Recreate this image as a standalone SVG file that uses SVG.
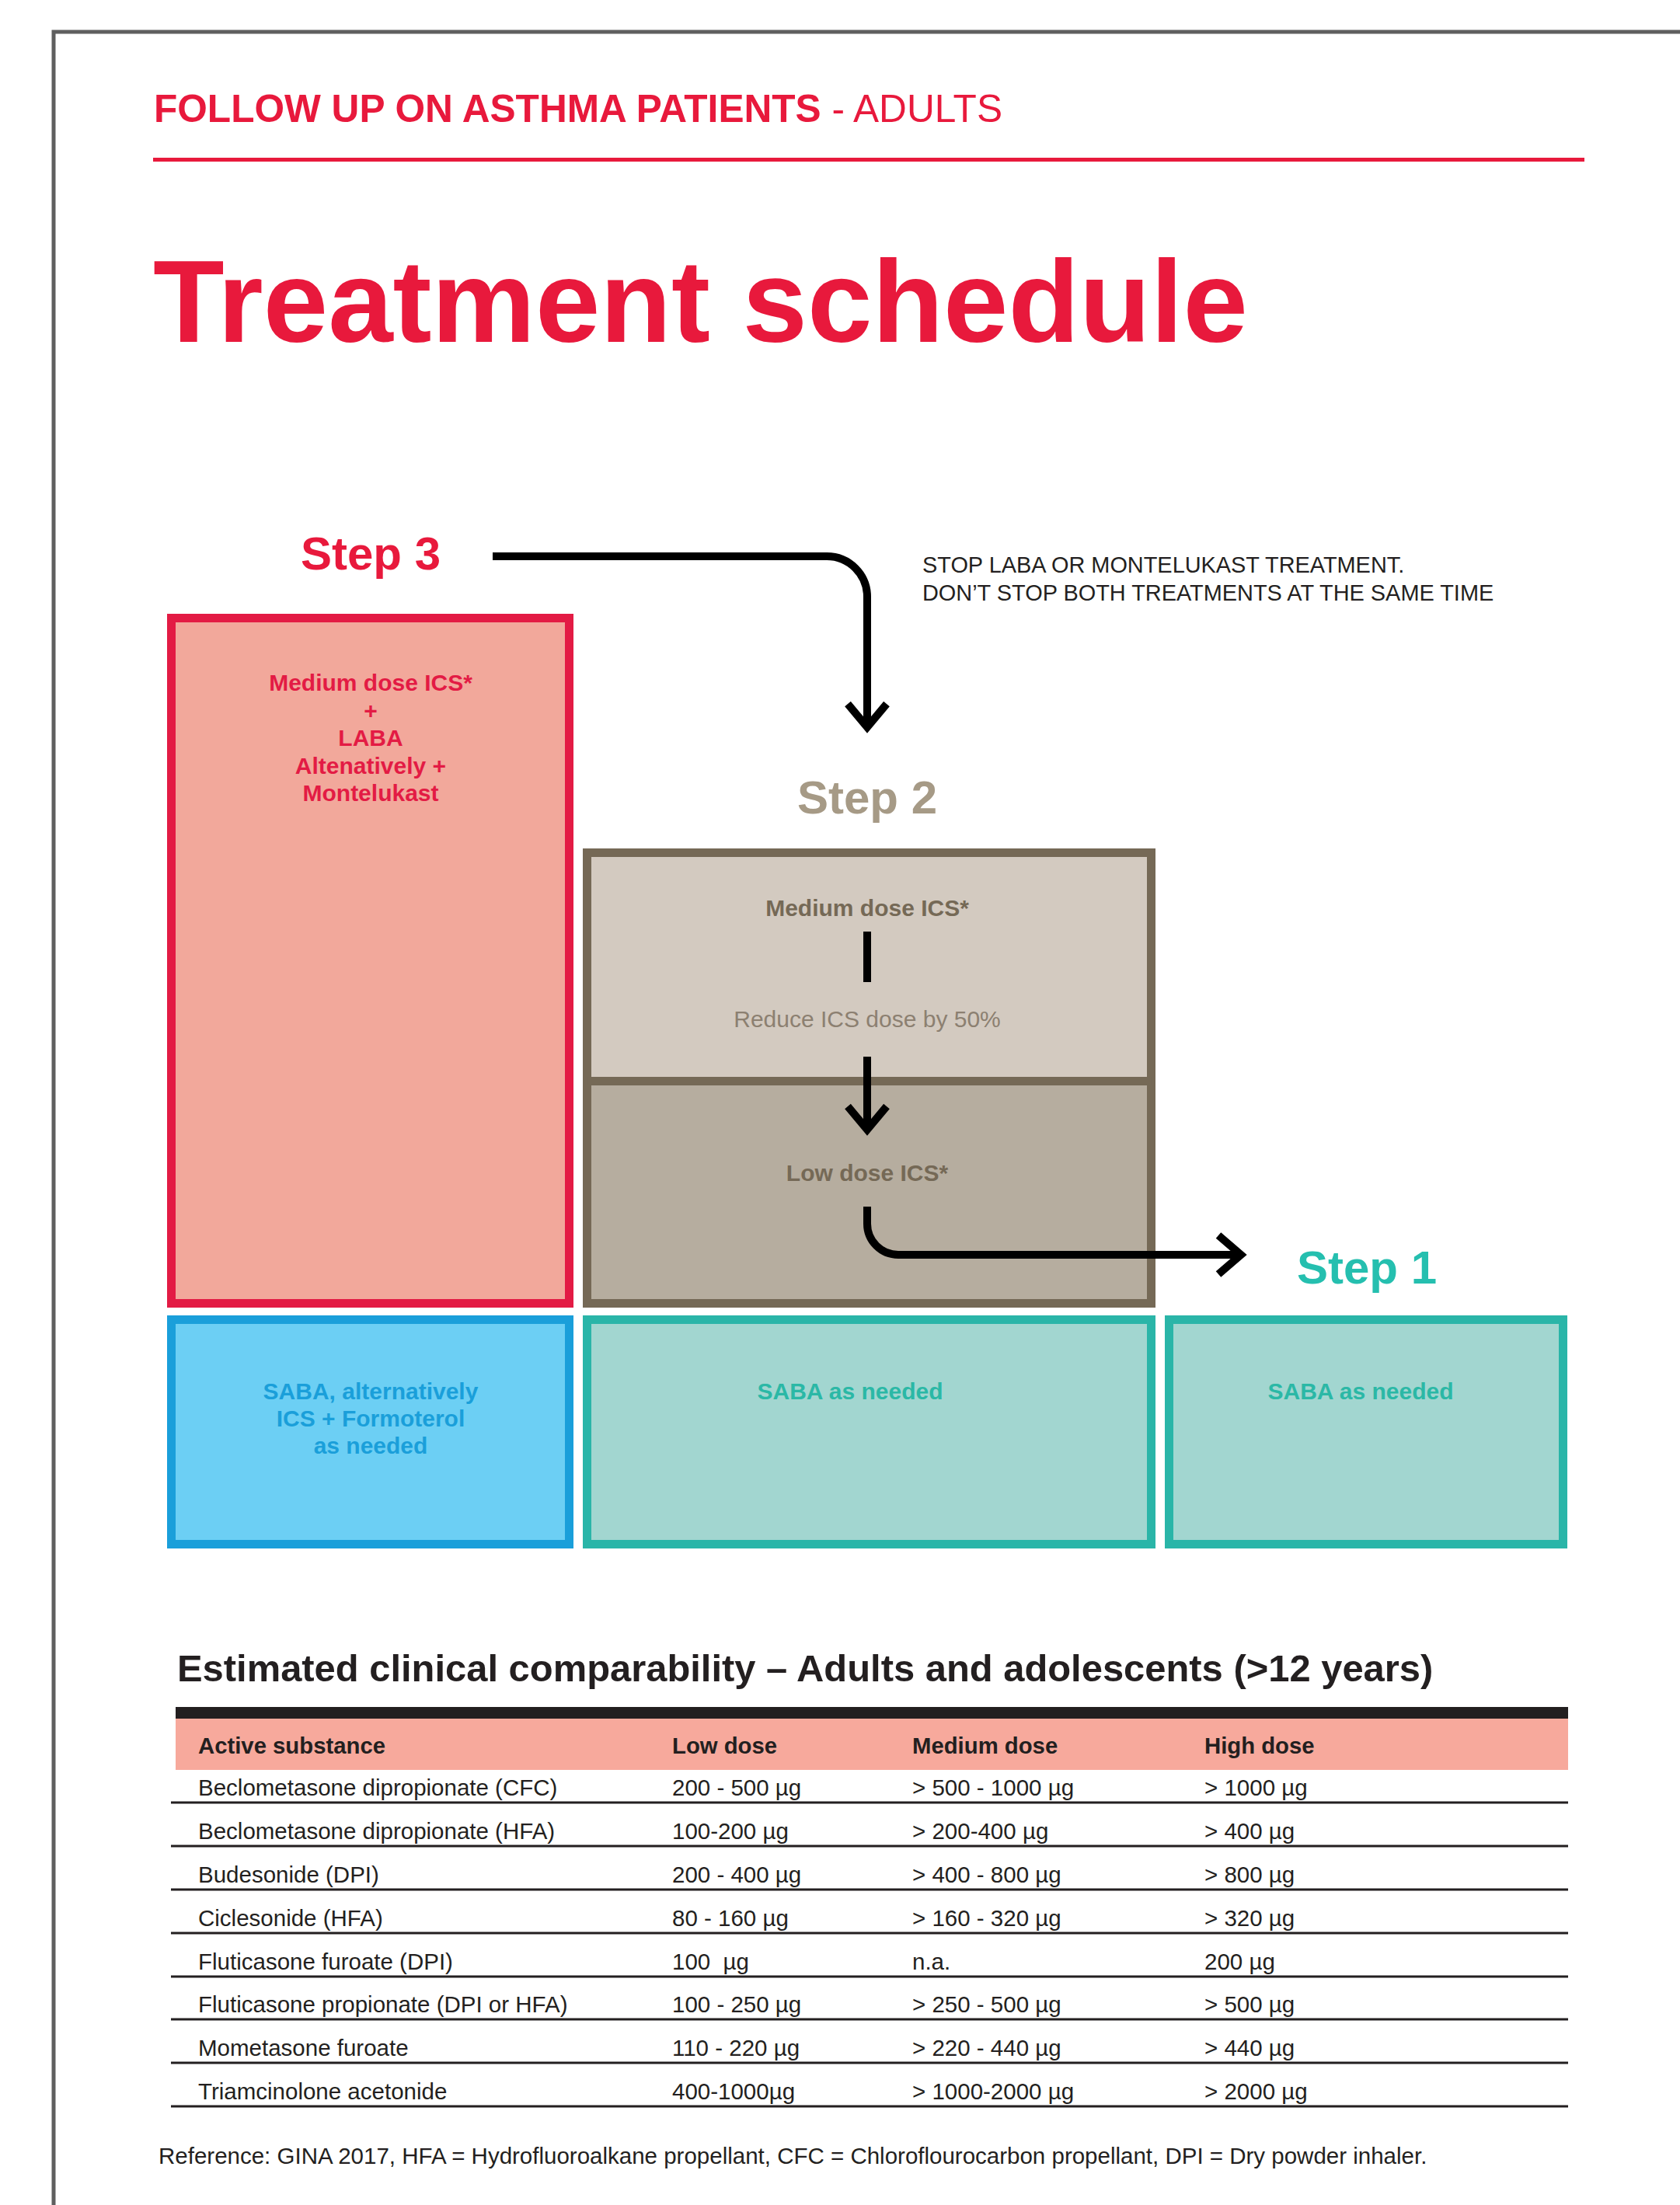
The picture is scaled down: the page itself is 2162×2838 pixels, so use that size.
<svg xmlns="http://www.w3.org/2000/svg" width="2162" height="2838" viewBox="0 0 2162 2838">
<style>
text{font-family:"Liberation Sans",Arial,sans-serif}
.b{font-weight:bold}
.red{fill:#E8193C}
.c{text-anchor:middle}
.step{font-size:60px;font-weight:bold;text-anchor:middle}
.bx{font-size:30px;font-weight:bold;text-anchor:middle}
.dk{fill:#231F20}
.row{font-size:29.5px;fill:#231F20}
.hd{font-size:29.3px;font-weight:bold;fill:#231F20}
.rl{stroke:#231F20;stroke-width:3}
.arr{fill:none;stroke:#000;stroke-width:10;stroke-linejoin:miter;stroke-miterlimit:10}
</style>
<rect width="2162" height="2838" fill="#fff"/>
<path d="M69,2838 V41 H2162" fill="none" stroke="#5F5F5F" stroke-width="5"/>

<g id="header">
<text x="198" y="157" font-size="49.6" class="red"><tspan class="b">FOLLOW UP ON ASTHMA PATIENTS</tspan> - ADULTS</text>
<rect x="197" y="203" width="1842" height="5" fill="#E8193C"/>
<text x="197" y="440" font-size="150" class="b red">Treatment schedule</text>
</g>

<g id="step3">
<text x="477" y="733" class="step" fill="#E8193C">Step 3</text>
<rect x="220.5" y="795.5" width="512" height="882" fill="#F2A89B" stroke="#E31B44" stroke-width="11"/>
<g class="bx" fill="#E31B44">
<text x="477" y="889" class="bx">Medium dose ICS*</text>
<text x="477" y="924.5" class="bx">+</text>
<text x="477" y="960" class="bx">LABA</text>
<text x="477" y="995.5" class="bx">Altenatively +</text>
<text x="477" y="1031" class="bx">Montelukast</text>
</g>
</g>

<g id="note">
<text x="1187" y="737" font-size="28.9" class="dk">STOP LABA OR MONTELUKAST TREATMENT.</text>
<text x="1187" y="773" font-size="28.9" class="dk">DON’T STOP BOTH TREATMENTS AT THE SAME TIME</text>
</g>

<g id="step2">
<text x="1116" y="1047" class="step" fill="#A69A86">Step 2</text>
<rect x="755.5" y="1097.5" width="726" height="294" fill="#D3CAC0"/>
<rect x="755.5" y="1391.5" width="726" height="286" fill="#B6AD9F"/>
<rect x="755.5" y="1097.5" width="726" height="580" fill="none" stroke="#756956" stroke-width="11"/>
<line x1="755.5" y1="1391.5" x2="1481.5" y2="1391.5" stroke="#756956" stroke-width="11"/>
<text x="1116" y="1179" class="bx" fill="#756956">Medium dose ICS*</text>
<text x="1116" y="1322" font-size="30" class="c" fill="#8C8071">Reduce ICS dose by 50%</text>
<text x="1116" y="1520" class="bx" fill="#756956">Low dose ICS*</text>
</g>

<g id="step1">
<text x="1759" y="1652" class="step" fill="#25BFAF">Step 1</text>
</g>

<g id="saba-step3">
<rect x="220.5" y="1698.5" width="512" height="289" fill="#6CCFF4" stroke="#1A9FDA" stroke-width="11"/>
<text x="477" y="1801" class="bx" fill="#1A9FDA">SABA, alternatively</text>
<text x="477" y="1836" class="bx" fill="#1A9FDA">ICS + Formoterol</text>
<text x="477" y="1871" class="bx" fill="#1A9FDA">as needed</text>
</g>
<g id="saba-step2">
<rect x="755.5" y="1698.5" width="726" height="289" fill="#A2D6D0" stroke="#2AB5A8" stroke-width="11"/>
<text x="1094" y="1801" class="bx" fill="#2BB8A6">SABA as needed</text>
</g>
<g id="saba-step1">
<rect x="1504.5" y="1698.5" width="507" height="289" fill="#A2D6D0" stroke="#2AB5A8" stroke-width="11"/>
<text x="1751" y="1801" class="bx" fill="#2BB8A6">SABA as needed</text>
</g>

<g id="connectors">
<path class="arr" d="M634,716 H1064 A52,52 0 0 1 1116,768 V934"/>
<polyline class="arr" points="1091,906 1116,936 1141,906"/>
<path class="arr" d="M1116,1199 V1264"/>
<path class="arr" d="M1116,1360 V1452"/>
<polyline class="arr" points="1091,1424 1116,1454 1141,1424"/>
<path class="arr" d="M1116,1553 V1575 A40,40 0 0 0 1156,1615 H1594"/>
<polyline class="arr" points="1568,1590 1597,1615 1568,1640"/>
</g>

<g id="table">
<text x="228" y="2164" font-size="48.9" class="b dk">Estimated clinical comparability – Adults and adolescents (&gt;12 years)</text>
<rect x="226" y="2197" width="1792" height="15" fill="#231F20"/>
<rect x="226" y="2212" width="1792" height="66" fill="#F7A99C"/>
<text x="255" y="2257" class="hd">Active substance</text>
<text x="865" y="2257" class="hd">Low dose</text>
<text x="1174" y="2257" class="hd">Medium dose</text>
<text x="1550" y="2257" class="hd">High dose</text>
<g>
<line class="rl" x1="220" y1="2320" x2="2018" y2="2320"/>
<line class="rl" x1="220" y1="2376" x2="2018" y2="2376"/>
<line class="rl" x1="220" y1="2432" x2="2018" y2="2432"/>
<line class="rl" x1="220" y1="2488" x2="2018" y2="2488"/>
<line class="rl" x1="220" y1="2544" x2="2018" y2="2544"/>
<line class="rl" x1="220" y1="2599" x2="2018" y2="2599"/>
<line class="rl" x1="220" y1="2655" x2="2018" y2="2655"/>
<line class="rl" x1="220" y1="2711" x2="2018" y2="2711"/>
</g>
<g class="row">
<text x="255" y="2311" class="row">Beclometasone dipropionate (CFC)</text>
<text x="865" y="2311" class="row">200 - 500 µg</text>
<text x="1174" y="2311" class="row">&gt; 500 - 1000 µg</text>
<text x="1550" y="2311" class="row">&gt; 1000 µg</text>
<text x="255" y="2367" class="row">Beclometasone dipropionate (HFA)</text>
<text x="865" y="2367" class="row">100-200 µg</text>
<text x="1174" y="2367" class="row">&gt; 200-400 µg</text>
<text x="1550" y="2367" class="row">&gt; 400 µg</text>
<text x="255" y="2423" class="row">Budesonide (DPI)</text>
<text x="865" y="2423" class="row">200 - 400 µg</text>
<text x="1174" y="2423" class="row">&gt; 400 - 800 µg</text>
<text x="1550" y="2423" class="row">&gt; 800 µg</text>
<text x="255" y="2479" class="row">Ciclesonide (HFA)</text>
<text x="865" y="2479" class="row">80 - 160 µg</text>
<text x="1174" y="2479" class="row">&gt; 160 - 320 µg</text>
<text x="1550" y="2479" class="row">&gt; 320 µg</text>
<text x="255" y="2535" class="row">Fluticasone furoate (DPI)</text>
<text x="865" y="2535" class="row">100 &#160;µg</text>
<text x="1174" y="2535" class="row">n.a.</text>
<text x="1550" y="2535" class="row">200 µg</text>
<text x="255" y="2590" class="row">Fluticasone propionate (DPI or HFA)</text>
<text x="865" y="2590" class="row">100 - 250 µg</text>
<text x="1174" y="2590" class="row">&gt; 250 - 500 µg</text>
<text x="1550" y="2590" class="row">&gt; 500 µg</text>
<text x="255" y="2646" class="row">Mometasone furoate</text>
<text x="865" y="2646" class="row">110 - 220 µg</text>
<text x="1174" y="2646" class="row">&gt; 220 - 440 µg</text>
<text x="1550" y="2646" class="row">&gt; 440 µg</text>
<text x="255" y="2702" class="row">Triamcinolone acetonide</text>
<text x="865" y="2702" class="row">400-1000µg</text>
<text x="1174" y="2702" class="row">&gt; 1000-2000 µg</text>
<text x="1550" y="2702" class="row">&gt; 2000 µg</text>
</g>
</g>

<g id="footer">
<text x="204" y="2785" font-size="29.5" class="dk">Reference: GINA 2017, HFA = Hydrofluoroalkane propellant, CFC = Chloroflourocarbon propellant, DPI = Dry powder inhaler.</text>
</g>
</svg>
